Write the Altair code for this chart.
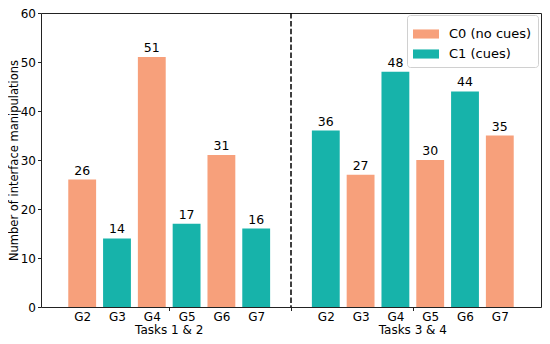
import altair as alt
import pandas as pd

# ---- data ----
groups = ["G2", "G3", "G4", "G5", "G6", "G7"]
block_names = ["Tasks 1 & 2", "Tasks 3 & 4"]
block1_values = [26, 14, 51, 17, 31, 16]
block1_cond = ["C0 (no cues)", "C1 (cues)", "C0 (no cues)", "C1 (cues)", "C0 (no cues)", "C1 (cues)"]
block2_values = [36, 27, 48, 30, 44, 35]
block2_cond = ["C1 (cues)", "C0 (no cues)", "C1 (cues)", "C0 (no cues)", "C1 (cues)", "C0 (no cues)"]
conditions = ["C0 (no cues)", "C1 (cues)"]
colors = ["#F7A07B", "#17B3AA"]
y_ticks = [0, 10, 20, 30, 40, 50, 60]

FONT = "DejaVu Sans"
FS = 12
BAR_W = 0.8

rows = []
for b, (vals, conds) in enumerate([(block1_values, block1_cond), (block2_values, block2_cond)]):
    for i, (g, v, c) in enumerate(zip(groups, vals, conds)):
        pos = b * (len(groups) + 1) + i
        rows.append(dict(group=g, value=v, cond=c, pos=pos, block=block_names[b],
                         x0=pos - BAR_W / 2, x1=pos + BAR_W / 2, base=0))
df = pd.DataFrame(rows)

lo, hi = df.x0.min(), df.x1.max()
m = 0.05 * (hi - lo)
xdom = [lo - m, hi + m]

centers = df.groupby("block", sort=False)["pos"].mean().reset_index()
divider = float(len(groups))
div_df = pd.DataFrame({"pos": [divider]})

tick_vals = sorted(list(df.pos.astype(float)) + list(centers.pos) + [divider])
garr = "[" + ",".join(f"'{g}'" for g in groups) + "]"
label_expr = (f"datum.value == floor(datum.value) && datum.value != {divider} "
              f"? {garr}[datum.value % {len(groups) + 1}] : ''")
major_test = " || ".join([f"datum.value == {v}" for v in list(centers.pos) + [divider]])

W, H = 500, 294
PAD_T, PAD_L = 5, 33
xscale = alt.Scale(domain=xdom, nice=False, zero=False)
yscale = alt.Scale(domain=[0, 60], nice=False)

xaxis = alt.Axis(
    values=tick_vals, labelExpr=label_expr, title=None, grid=False,
    labelOverlap=False, labelFont=FONT, labelFontSize=FS, labelColor="#000",
    tickSize=3.5, tickColor="#222", labelPadding=1, domain=False,
    tickOpacity=alt.condition(major_test, alt.value(1), alt.value(0)),
)
yaxis = alt.Axis(
    values=y_ticks, title="Number of interface manipulations", grid=False,
    labelFont=FONT, labelFontSize=FS, labelColor="#000", tickSize=3.5,
    tickColor="#222", labelPadding=2, domain=False, labelOverlap=False,
    titleFont=FONT, titleFontSize=11.5, titleFontWeight="normal", titleColor="#000",
    titleX=-23.5, titleBaseline="alphabetic",
)

bars = alt.Chart(df).mark_bar(orient="vertical").encode(
    x=alt.X("x0:Q", scale=xscale, axis=xaxis),
    x2="x1:Q",
    y=alt.Y("value:Q", scale=yscale, axis=yaxis),
    y2="base:Q",
    color=alt.Color("cond:N", scale=alt.Scale(domain=conditions, range=colors),
                    legend=alt.Legend(title=None)),
)

labels = alt.Chart(df).mark_text(baseline="bottom", dy=-2, font=FONT, fontSize=12.5, color="#000").encode(
    x=alt.X("pos:Q", scale=xscale, axis=xaxis),
    y=alt.Y("value:Q", scale=yscale, axis=yaxis),
    text="value:Q",
)

rule = alt.Chart(div_df).mark_rule(color="#000", strokeWidth=1.5, strokeDash=[5.5, 2.4]).encode(
    x=alt.X("pos:Q", scale=xscale, axis=xaxis),
)

block_text = alt.Chart(centers).mark_text(baseline="alphabetic", font=FONT, fontSize=FS, color="#000").encode(
    x=alt.X("pos:Q", scale=xscale, axis=xaxis),
    y=alt.value(H + 27),
    text="block:N",
)

chart = alt.layer(bars, labels, rule, block_text).properties(
    width=W, height=H,
    autosize=alt.AutoSizeParams(type="none"),
    padding={"left": PAD_L, "top": PAD_T, "right": 534 - PAD_L - W, "bottom": 328 - PAD_T - H},
).configure_view(
    stroke="#222", strokeWidth=1,
).configure_legend(
    orient="none", legendX=366, legendY=2,
    padding=6, fillColor="white", strokeColor="#d0d0d0", cornerRadius=3,
    labelFont=FONT, labelFontSize=13, labelColor="#000",
    symbolType="M-1,-0.35H1V0.35H-1Z", symbolSize=676, symbolStrokeWidth=0,
    symbolOpacity=1, rowPadding=-3, labelOffset=10,
)

chart.save("out.html", embed_options={"renderer": "svg", "actions": False})
